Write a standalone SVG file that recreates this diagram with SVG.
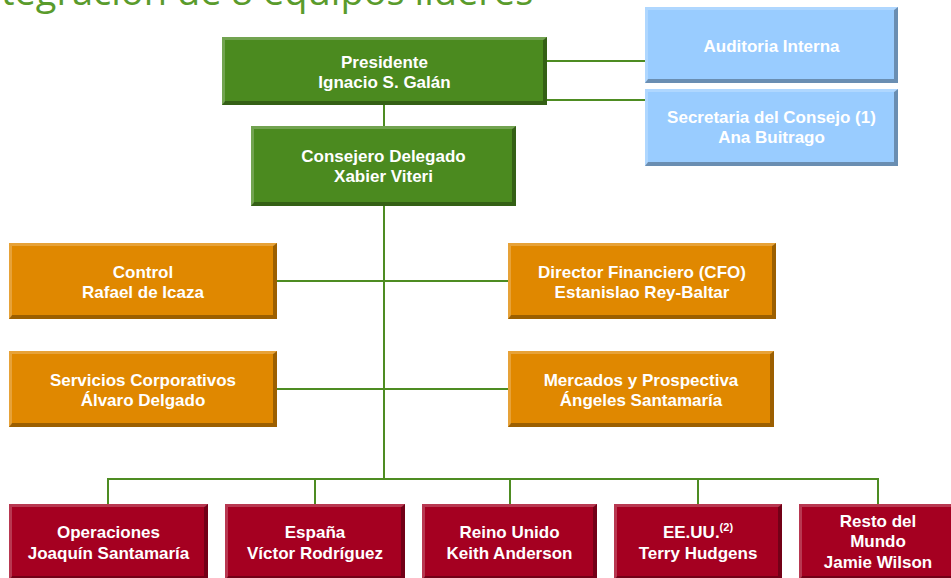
<svg xmlns="http://www.w3.org/2000/svg" width="951" height="578" viewBox="0 0 951 578">
<style>
  .t{font-family:"Liberation Sans",Arial,sans-serif;font-weight:bold;font-size:17px;fill:#fff;text-anchor:middle}
  .sup{font-size:11px}
  .title{font-family:"Open Sans","Liberation Sans",sans-serif;font-size:38px;fill:#5A9B2C}
  .g{fill:#4B8A1F}
  .b{fill:#99CCFF}
  .o{fill:#E08800}
  .r{fill:#A50021}
  .hl{fill:#fff;fill-opacity:0.22}
  .sh{fill:#000;fill-opacity:0.3}
  .c{stroke:#4E8C22;stroke-width:2;fill:none}
</style>
<rect width="951" height="578" fill="#fff"/>
<text class="title" x="-33" y="5">Integración de 8 equipos líderes</text>

<g id="connectors">
  <path class="c" d="M384 105V126M384 206V479M547 61H645M547 100H645M277 281H508M277 389H508M108 479H878M108 478V504M315 479V504M510 479V504M698 479V504M878 478V504"/>
</g>

<g id="n-presidente">
  <rect class="g" x="222" y="37" width="325" height="68"/>
  <path class="hl" d="M222 37H547L544 40H225V102L222 105Z"/>
  <path class="sh" d="M547 37V105H222L225 101H543V40Z"/>
  <text class="t" x="384.5" y="68">Presidente</text>
  <text class="t" x="384.5" y="88">Ignacio S. Galán</text>
</g>

<g id="n-consejero">
  <rect class="g" x="251" y="126" width="265" height="80"/>
  <path class="hl" d="M251 126H516L513 129H254V203L251 206Z"/>
  <path class="sh" d="M516 126V206H251L254 202H512V129Z"/>
  <text class="t" x="383.5" y="162">Consejero Delegado</text>
  <text class="t" x="383.5" y="182">Xabier Viteri</text>
</g>

<g id="n-auditoria">
  <rect class="b" x="645" y="7" width="253" height="76"/>
  <path class="hl" d="M645 7H898L895 10H648V80L645 83Z"/>
  <path class="sh" d="M898 7V83H645L648 79H894V10Z"/>
  <text class="t" x="771.5" y="52">Auditoria Interna</text>
</g>

<g id="n-secretaria">
  <rect class="b" x="645" y="89" width="253" height="77"/>
  <path class="hl" d="M645 89H898L895 92H648V163L645 166Z"/>
  <path class="sh" d="M898 89V166H645L648 162H894V92Z"/>
  <text class="t" x="771.5" y="123">Secretaria del Consejo (1)</text>
  <text class="t" x="771.5" y="143">Ana Buitrago</text>
</g>

<g id="n-control">
  <rect class="o" x="9" y="243" width="268" height="76"/>
  <path class="hl" d="M9 243H277L274 246H12V316L9 319Z"/>
  <path class="sh" d="M277 243V319H9L12 315H273V246Z"/>
  <text class="t" x="143" y="278">Control</text>
  <text class="t" x="143" y="298">Rafael de Icaza</text>
</g>

<g id="n-servicios">
  <rect class="o" x="9" y="351" width="268" height="76"/>
  <path class="hl" d="M9 351H277L274 354H12V424L9 427Z"/>
  <path class="sh" d="M277 351V427H9L12 423H273V354Z"/>
  <text class="t" x="143" y="386">Servicios Corporativos</text>
  <text class="t" x="143" y="406">Álvaro Delgado</text>
</g>

<g id="n-cfo">
  <rect class="o" x="508" y="243" width="268" height="76"/>
  <path class="hl" d="M508 243H776L773 246H511V316L508 319Z"/>
  <path class="sh" d="M776 243V319H508L511 315H772V246Z"/>
  <text class="t" x="642" y="278">Director Financiero (CFO)</text>
  <text class="t" x="642" y="298">Estanislao Rey-Baltar</text>
</g>

<g id="n-mercados">
  <rect class="o" x="508" y="351" width="266" height="76"/>
  <path class="hl" d="M508 351H774L771 354H511V424L508 427Z"/>
  <path class="sh" d="M774 351V427H508L511 423H770V354Z"/>
  <text class="t" x="641" y="386">Mercados y Prospectiva</text>
  <text class="t" x="641" y="406">Ángeles Santamaría</text>
</g>

<g id="n-operaciones">
  <rect class="r" x="9" y="504" width="199" height="76"/>
  <path class="hl" d="M9 504H208L205 507H12V577L9 580Z"/>
  <path class="sh" d="M208 504V580H9L12 576H204V507Z"/>
  <text class="t" x="108.5" y="538">Operaciones</text>
  <text class="t" x="108.5" y="559">Joaquín Santamaría</text>
</g>

<g id="n-espana">
  <rect class="r" x="225" y="504" width="180" height="76"/>
  <path class="hl" d="M225 504H405L402 507H228V577L225 580Z"/>
  <path class="sh" d="M405 504V580H225L228 576H401V507Z"/>
  <text class="t" x="315" y="538">España</text>
  <text class="t" x="315" y="559">Víctor Rodríguez</text>
</g>

<g id="n-reino">
  <rect class="r" x="422" y="504" width="175" height="76"/>
  <path class="hl" d="M422 504H597L594 507H425V577L422 580Z"/>
  <path class="sh" d="M597 504V580H422L425 576H593V507Z"/>
  <text class="t" x="509.5" y="538">Reino Unido</text>
  <text class="t" x="509.5" y="559">Keith Anderson</text>
</g>

<g id="n-eeuu">
  <rect class="r" x="614" y="504" width="168" height="76"/>
  <path class="hl" d="M614 504H782L779 507H617V577L614 580Z"/>
  <path class="sh" d="M782 504V580H614L617 576H778V507Z"/>
  <text class="t" x="698" y="538">EE.UU.<tspan class="sup" dy="-7">(2)</tspan></text>
  <text class="t" x="698" y="559">Terry Hudgens</text>
</g>

<g id="n-resto">
  <rect class="r" x="799" y="504" width="158" height="76"/>
  <path class="hl" d="M799 504H957L954 507H802V577L799 580Z"/>
  <path class="sh" d="M957 504V580H799L802 576H953V507Z"/>
  <text class="t" x="878" y="527">Resto del</text>
  <text class="t" x="878" y="547">Mundo</text>
  <text class="t" x="878" y="568">Jamie Wilson</text>
</g>
</svg>
